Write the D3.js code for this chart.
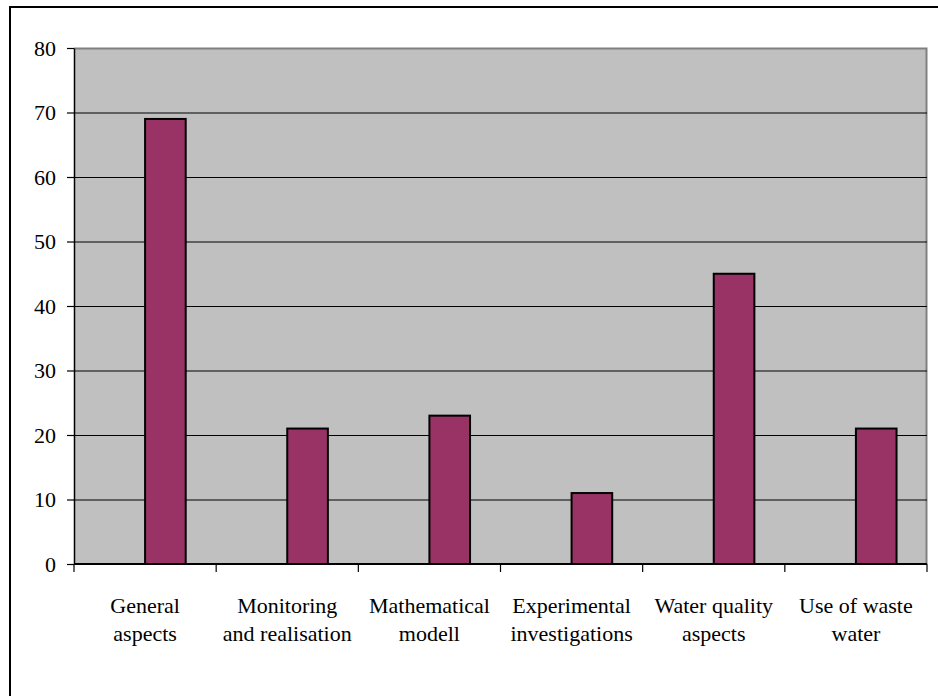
<!DOCTYPE html>
<meta charset="utf-8">
<style>
    body { margin: 0; background: #fff; }
    text { font-family: "Liberation Serif", "Times New Roman", serif; font-size: 22px; fill: #000; }
    .grid line { stroke: #000; stroke-width: 1px; }
    .grid path { display: none; }
    .bar { fill: #993366; stroke: #000; stroke-width: 2px; }
</style>
<body>
<script src="https://d3js.org/d3.v7.min.js"></script>
<script>
    var categories = [
        ["General", "aspects"],
        ["Monitoring", "and realisation"],
        ["Mathematical", "modell"],
        ["Experimental", "investigations"],
        ["Water quality", "aspects"],
        ["Use of waste", "water"]
    ];
    var values = [69, 21, 23, 11, 45, 21];
    var yTicks = [0, 10, 20, 30, 40, 50, 60, 70, 80];

    var width = 938, height = 696;
    var plotLeft = 74, plotRight = 927, plotTop = 48, plotBottom = 564;

    var svg = d3.select("body").append("svg")
        .attr("width", width)
        .attr("height", height);

    // outer frame (right/bottom edges fall outside the window)
    svg.append("rect")
        .attr("x", 10).attr("y", 7)
        .attr("width", 940).attr("height", 700)
        .attr("fill", "none")
        .attr("stroke", "#000")
        .attr("stroke-width", 2);

    var x = d3.scaleBand()
        .domain(d3.range(categories.length))
        .range([plotLeft, plotRight])
        .padding(0);

    var y = d3.scaleLinear()
        .domain([0, 80])
        .range([plotBottom, plotTop]);

    // plot area
    svg.append("rect")
        .attr("x", plotLeft).attr("y", plotTop)
        .attr("width", plotRight - plotLeft).attr("height", plotBottom - plotTop)
        .attr("fill", "#c0c0c0");

    svg.append("path")
        .attr("d", "M" + plotLeft + "," + (plotTop + 0.5) + "H" + (plotRight - 0.5) + "V" + plotBottom)
        .attr("fill", "none")
        .attr("stroke", "#808080")
        .attr("stroke-width", 2);

    // gridlines
    svg.append("g")
        .attr("class", "grid")
        .attr("transform", "translate(" + plotLeft + ",0)")
        .call(d3.axisLeft(y).tickValues(yTicks.filter(d => d > 0 && d < 80)).tickSize(-(plotRight - plotLeft)).tickFormat(""));

    // bars: second slot of a two-series cluster (gap width 150%)
    var bw = x.bandwidth() / 3.5;
    svg.selectAll(".bar")
        .data(values)
        .enter().append("rect")
        .attr("class", "bar")
        .attr("x", (d, i) => x(i) + x.bandwidth() / 2)
        .attr("y", d => y(d))
        .attr("width", bw)
        .attr("height", d => y(0) - y(d));

    // y axis
    var yAxis = svg.append("g")
        .attr("transform", "translate(" + plotLeft + ",0)")
        .call(d3.axisLeft(y).tickValues(yTicks).tickSize(7).tickSizeOuter(0).tickPadding(11));
    yAxis.select(".domain").attr("stroke", "#000").attr("stroke-width", 1.5);
    yAxis.selectAll(".tick line").attr("stroke", "#000").attr("stroke-width", 1.2);
    yAxis.selectAll("text")
        .attr("font-family", null).attr("font-size", null)
        .attr("dy", "0.33em");

    // x axis ticks at category boundaries
    var bounds = d3.range(categories.length + 1).map(i => i === categories.length ? plotRight : x(i));
    svg.append("line")
        .attr("x1", plotLeft).attr("x2", plotRight)
        .attr("y1", plotBottom).attr("y2", plotBottom)
        .attr("stroke", "#000").attr("stroke-width", 2);
    svg.selectAll(".xtick")
        .data(bounds)
        .enter().append("line")
        .attr("x1", d => d).attr("x2", d => d)
        .attr("y1", plotBottom).attr("y2", plotBottom + 8)
        .attr("stroke", "#000").attr("stroke-width", 1.2);

    // category labels
    var labels = svg.selectAll(".xlabel")
        .data(categories)
        .enter().append("text")
        .attr("text-anchor", "middle")
        .attr("transform", (d, i) => "translate(" + (x(i) + x.bandwidth() / 2) + "," + 613 + ")");
    labels.selectAll("tspan")
        .data(d => d)
        .enter().append("tspan")
        .attr("x", 0)
        .attr("y", (d, j) => j * 28)
        .text(d => d);
</script>
</body>
